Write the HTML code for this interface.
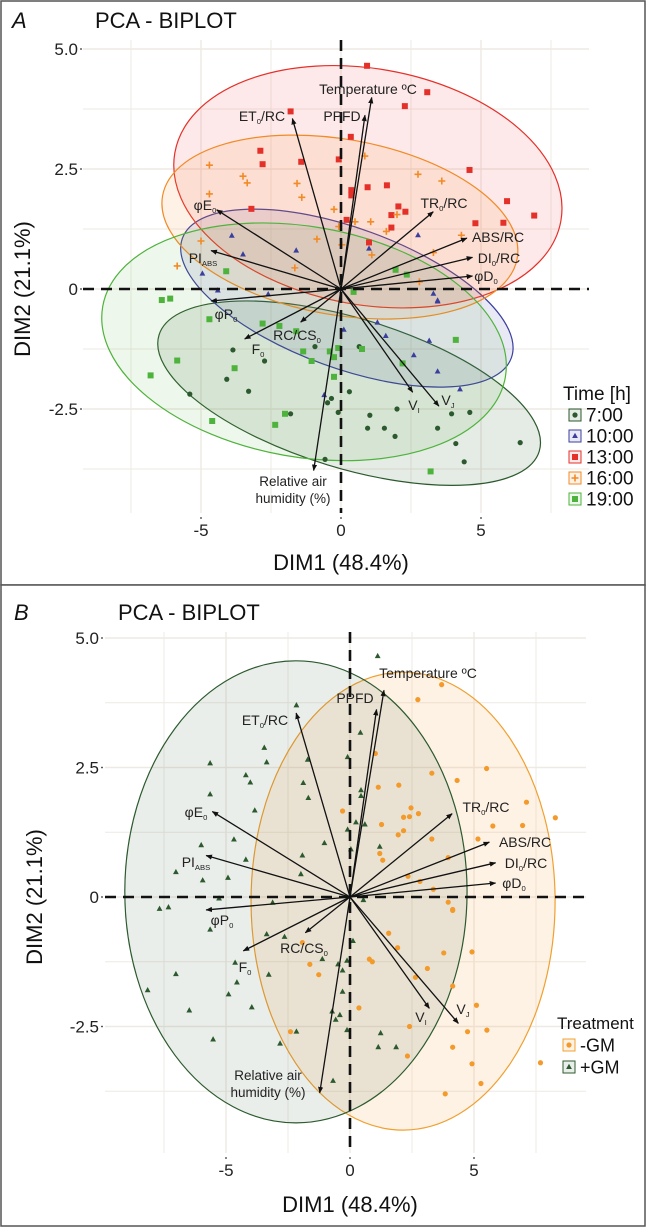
<!DOCTYPE html>
<html><head><meta charset="utf-8">
<style>
html,body{margin:0;padding:0;background:#fff;}
svg{display:block;font-family:"Liberation Sans",sans-serif;}
</style></head>
<body>
<svg id="chart" width="646" height="1228" viewBox="0 0 646 1228"></svg>
<script>
// ---------- data (DIM1, DIM2, treatment flag M=-GM, P=+GM) ----------
const vecNames = ["Temperature ºC","PPFD","ET_0_/RC","φE_0","PI_ABS","TR_0_/RC","ABS/RC","DI_0_/RC","φD_0","φP_0","F_0","RC/CS_0","V_I","V_J","Relative air humidity (%)"];
const vecX = [1.37,1.07,-2.17,-5.55,-5.8,4.12,5.62,5.87,5.87,-5.8,-4.3,-1.8,3.2,4.37,-1.22];
const vecY = [3.99,3.62,3.55,1.65,0.80,1.61,1.06,0.66,0.27,-0.25,-1.04,-0.69,-2.15,-2.44,-3.78];
const pts13 = [[0.93,4.65,'P'],[3.08,4.1,'M'],[2.28,3.81,'M'],[-1.8,3.7,'P'],[0.35,3.17,'P'],[-2.88,2.88,'P'],[-2.8,2.6,'P'],[-1.42,2.65,'P'],[-0.08,2.7,'P'],[0.37,2.06,'P'],[0.37,1.95,'P'],[0.95,2.12,'M'],[1.64,2.16,'M'],[4.59,2.48,'M'],[5.93,1.83,'M'],[6.9,1.53,'M'],[-3.2,1.67,'P'],[2.05,1.72,'M'],[2.3,1.61,'M'],[1.8,1.54,'M'],[0.2,1.44,'P'],[1.8,1.28,'M'],[4.8,1.37,'M'],[5.8,1.38,'M'],[1.0,0.97,'P']];
const pts16 = [[-4.7,2.58,'P'],[-3.5,2.35,'P'],[-3.35,2.21,'P'],[-1.57,2.2,'P'],[-1.4,1.91,'P'],[-4.7,1.98,'P'],[2.75,2.39,'M'],[3.6,2.25,'M'],[0.85,2.77,'M'],[-0.25,1.66,'M'],[0.5,1.4,'P'],[1.06,1.4,'M'],[2.0,1.55,'M'],[1.62,1.2,'M'],[-0.08,1.3,'P'],[-0.86,1.04,'P'],[0.03,0.92,'P'],[-5.0,1.0,'P'],[-5.85,0.48,'P'],[-1.65,0.44,'P'],[1.1,0.71,'M'],[4.3,1.12,'M'],[2.8,0.15,'M'],[3.3,0.76,'M']];
const pts10 = [[-3.9,1.11,'P'],[-3.5,0.72,'P'],[-1.6,0.8,'P'],[-4.95,0.32,'P'],[-4.4,-0.03,'P'],[-2.6,-0.11,'P'],[1.0,0.84,'M'],[2.75,1.12,'M'],[3.3,-0.1,'M'],[3.45,-0.24,'M'],[0.1,-0.85,'P'],[1.3,-0.7,'M'],[1.6,-0.98,'M'],[3.15,-1.08,'M'],[2.6,-1.38,'M'],[3.45,-1.72,'M'],[4.25,-2.09,'M'],[-0.6,-2.21,'P'],[3.45,-0.26,'M']];
const pts7 = [[-3.86,-1.27,'P'],[-2.73,-1.5,'P'],[-4.08,-1.88,'P'],[-3.3,-2.13,'P'],[-5.4,-2.19,'P'],[-0.93,-1.2,'P'],[0.65,-1.2,'M'],[0.3,-2.14,'M'],[-0.34,-2.28,'P'],[-0.48,-2.37,'P'],[-1.8,-2.6,'P'],[-0.1,-2.57,'P'],[1.03,-2.63,'P'],[2.0,-2.5,'M'],[0.95,-2.9,'P'],[1.55,-2.9,'P'],[1.93,-3.07,'M'],[3.45,-2.9,'M'],[3.95,-2.6,'M'],[4.6,-2.57,'M'],[4.1,-3.22,'M'],[4.4,-3.6,'M'],[6.4,-3.2,'M'],[-0.57,-3.55,'P']];
const pts19 = [[-6.4,-0.23,'P'],[-6.1,-0.2,'P'],[-4.1,0.37,'P'],[1.95,0.4,'M'],[2.35,0.3,'M'],[0.45,-0.06,'P'],[-4.7,-0.63,'P'],[-2.8,-0.72,'P'],[-2.2,-0.77,'P'],[-1.6,-0.88,'M'],[-1.35,-1.3,'M'],[-0.4,-1.3,'P'],[-0.25,-1.42,'P'],[-0.1,-1.23,'P'],[0.75,-1.25,'M'],[-1.05,-1.5,'M'],[-3.8,-1.65,'P'],[-5.85,-1.49,'P'],[-6.8,-1.8,'P'],[2.2,-1.55,'M'],[4.1,-1.06,'M'],[-0.25,-1.83,'P'],[-2.0,-2.6,'M'],[-4.6,-2.75,'P'],[-2.35,-2.83,'P'],[3.2,-3.8,'M']];
const xTicks = [-5,0,5];
const yTicks = [5.0,2.5,0,-2.5];
const yTickLabels = ["5.0","2.5","0","-2.5"];
const timeLabels = ["7:00","10:00","13:00","16:00","19:00"];
const treatLabels = ["-GM","+GM"];
// ellipses [cx, cy, rx, ry, rotation]
const ellA = [[0.29,-2.17,7.1,1.56,17],[0.21,-0.19,6.25,1.46,20],[0.96,2.13,7.0,2.46,10],[-0.04,1.29,6.43,1.83,10],[-1.32,-1.1,7.3,2.4,10]];
const ellB = [[2.14,-0.08,6.13,4.42,0],[-2.18,0.1,6.9,4.46,0]];

const NS="http://www.w3.org/2000/svg";
const svg=document.getElementById('chart');
function mk(tag,attrs,parent){const e=document.createElementNS(NS,tag);for(const k in attrs)e.setAttribute(k,attrs[k]);(parent||svg).appendChild(e);return e;}
function richText(parent,str,x,y,size,anchor){
  const t=mk('text',{x:x,y:y,'font-size':size,'text-anchor':anchor||'middle',fill:'#222'},parent);
  const parts=str.split('_');
  parts.forEach((p,i)=>{ if(!p)return; const s=mk('tspan',{},t); s.textContent=p;
    if(i%2===1){s.setAttribute('font-size',size*0.55);s.setAttribute('dy',3);}
    else if(i>0){s.setAttribute('dy',-3);} });
  return t;
}
const defs=mk('defs',{});
const mkr=mk('marker',{id:'arr',viewBox:'0 0 10 10',refX:9,refY:5,markerWidth:5,markerHeight:5,orient:'auto'},defs);
mk('path',{d:'M0,1 L10,5 L0,9 z',fill:'#111'},mkr);

function marker(g,type,color,px,py){
  let e;
  if(type==='circle'){e=mk('circle',{cx:px,cy:py,r:2.6,fill:color},g);}
  else if(type==='square'){e=mk('rect',{x:px-3,y:py-3,width:6,height:6,fill:color},g);}
  else if(type==='tri'){e=mk('path',{d:`M${px},${py-3.3} L${px+2.9},${py+2} L${px-2.9},${py+2} z`,fill:color},g);}
  else if(type==='plus'){e=mk('path',{d:`M${px-3.5},${py} H${px+3.5} M${px},${py-3.5} V${py+3.5}`,stroke:color,'stroke-width':1.6},g);}
  return e;
}

function panel(P){
  const X=v=>P.x0+P.sx*v, Y=v=>P.y0-P.sy*v;
  const XP=v=>P.x0+P.sx*P.ptScale*v, XV=v=>P.x0+P.sx*P.vecScale*v;
  const g=mk('g',{});
  
  
  const grid=mk('g',{},g);
  
  
  for(let v=-7.5;v<=7.5;v+=2.5){const maj=(v%5===0);
    mk('line',{x1:X(v),x2:X(v),y1:P.gt,y2:P.gb,stroke:'#eee9e3','stroke-width':maj?1.4:0.9},grid);}
  for(let v=-3.75;v<=5;v+=1.25){const maj=(Math.abs(v*2)%5===0);
    mk('line',{x1:P.gl,x2:P.gr,y1:Y(v),y2:Y(v),stroke:'#eee9e3','stroke-width':maj?1.4:0.9},grid);}
  P.ells.forEach((e,i)=>{const el=mk('ellipse',{cx:X(e[0]),cy:Y(e[1]),rx:P.sx*e[2],ry:P.sy*e[3],fill:P.groups[i].fill,stroke:P.groups[i].stroke,'stroke-width':1.2,transform:`rotate(${e[4]} ${X(e[0])} ${Y(e[1])})`},g);
    
    });
  P.groups.forEach(gr=>{
    const pg=mk('g',{},g);
    
    
    gr.pts.forEach(p=>{marker(pg,gr.shape,gr.color,XP(p[0]),Y(p[1]));});
  });
  const zx=mk('line',{x1:P.gl,x2:P.gr,y1:Y(0),y2:Y(0),stroke:'#111','stroke-width':2.6,'stroke-dasharray':'11,7'},g);
  
  
  const zy=mk('line',{x1:X(0),x2:X(0),y1:P.gt,y2:P.gb,stroke:'#111','stroke-width':2.6,'stroke-dasharray':'11,7'},g);
  
  
  vecNames.forEach((n,i)=>{
    const l=mk('line',{x1:X(0),y1:Y(0),x2:XV(vecX[i]),y2:Y(vecY[i]),stroke:'#111','stroke-width':1.3,'marker-end':'url(#arr)'},g);
    
    
    const lp=P.labels[i];
    if(n.indexOf('Relative')===0){
      const t1=richText(g,'Relative air',lp[0],lp[1],13.5);
      
      
      const t2=richText(g,'humidity (%)',lp[0],lp[1]+17,13.5);
      
      
    } else {
      const t=richText(g,n,lp[0],lp[1],14);
      
      
    }
  });
  xTicks.forEach(v=>{const t=mk('text',{x:X(v),y:P.xlab,'font-size':17,'text-anchor':'middle',fill:'#222'},g);t.textContent=String(v);
    
    
    mk('circle',{cx:X(v),cy:P.gb+5,r:0.9,fill:'#333'},g);});
  yTicks.forEach((v,i)=>{const t=mk('text',{x:P.ylabx,y:Y(v)+6,'font-size':17,'text-anchor':'end',fill:'#222'},g);t.textContent=yTickLabels[i];
    
    
    mk('circle',{cx:P.ylabx+3,cy:Y(v),r:0.9,fill:'#333'},g);});
  const tl=mk('text',{x:P.letterX,y:P.titleY,'font-size':22,'font-style':'italic',fill:'#111'},g);tl.textContent=P.letter;
  
  
  const tt=mk('text',{x:P.titleX,y:P.titleY,'font-size':22,fill:'#111'},g);tt.textContent='PCA - BIPLOT';
  
  
  const xt=mk('text',{x:P.x0,y:P.xtitle,'font-size':22,'text-anchor':'middle',fill:'#111'},g);xt.textContent='DIM1 (48.4%)';
  
  
  const yt=mk('text',{x:P.ytx,y:P.y0,'font-size':22,'text-anchor':'middle',fill:'#111',transform:`rotate(-90 ${P.ytx} ${P.y0})`},g);yt.textContent='DIM2 (21.1%)';
  
  
  const lg=mk('g',{},g);
  
  
  const lt=mk('text',{x:P.legX-12,y:P.legY,'font-size':P.legTitleSize,fill:'#111'},lg);lt.textContent=P.legTitle;
  P.legItems.forEach((it,i)=>{const yy=P.legY+P.legGap*(i+1)-6;
    const e=mk('g',{},lg);
    
    
    mk('rect',{x:P.legX-6,y:yy-6,width:12,height:12,fill:it.fill,stroke:it.stroke,'stroke-width':1},e);
    marker(e,it.shape,it.color,P.legX,yy);
    const tx=mk('text',{x:P.legX+11,y:yy+6.5,'font-size':P.legSize,fill:'#111'},e);tx.textContent=it.label;});
}

const gA=[
 {key:'7h',shape:'circle',color:'#2c5a2e',fill:'rgba(45,90,45,0.12)',stroke:'#2c5a2e',pts:pts7,label:timeLabels[0]},
 {key:'10h',shape:'tri',color:'#3a3f9e',fill:'rgba(70,75,170,0.12)',stroke:'#3a3f9e',pts:pts10,label:timeLabels[1]},
 {key:'13h',shape:'square',color:'#e53029',fill:'rgba(240,70,70,0.12)',stroke:'#e53029',pts:pts13,label:timeLabels[2]},
 {key:'16h',shape:'plus',color:'#f28a25',fill:'rgba(245,150,60,0.12)',stroke:'#f28a25',pts:pts16,label:timeLabels[3]},
 {key:'19h',shape:'square',color:'#4eb33c',fill:'rgba(90,180,60,0.10)',stroke:'#4eb33c',pts:pts19,label:timeLabels[4]}];
const allPts=[].concat(pts7,pts10,pts13,pts16,pts19);
const gB=[
 {key:'minus-gm',shape:'circle',color:'#f39a2a',fill:'rgba(248,170,80,0.15)',stroke:'#f0a030',pts:allPts.filter(p=>p[2]==='M'),label:treatLabels[0]},
 {key:'plus-gm',shape:'tri',color:'#2c5a2e',fill:'rgba(45,90,60,0.10)',stroke:'#2c5a2e',pts:allPts.filter(p=>p[2]==='P'),label:treatLabels[1]}];

mk('rect',{x:1,y:1,width:644,height:584,fill:'#fff',stroke:'#555','stroke-width':1.5});
mk('rect',{x:1,y:585,width:644,height:641,fill:'#fff',stroke:'#555','stroke-width':1.5});

panel({name:'panel-a',x0:341,y0:289,sx:28,sy:48,ptScale:1,vecScale:0.8,gl:83,gr:589,gt:40,gb:513,xlab:536,ylabx:78,xtitle:570,ytx:30,
 letter:'A',letterX:12,titleX:95,titleY:28,ells:ellA,groups:gA,
 labels:[[368,94],[342,121],[262,121],[205,210],[203,263],[444,208],[498,242],[499,263],[486,281],[226,319],[258,354],[297,340],[414,410],[448,405],[293,486]],
 legTitle:'Time [h]',legX:575,legY:400,legGap:21,legSize:19,legTitleSize:19,legItems:gA});
panel({name:'panel-b',x0:350,y0:897,sx:24.8,sy:51.8,ptScale:1.2,vecScale:1,gl:105,gr:586,gt:632,gb:1153,xlab:1176,ylabx:99,xtitle:1212,ytx:42,
 letter:'B',letterX:14,titleX:118,titleY:620,ells:ellB,groups:gB,
 labels:[[428,678],[355,703],[265,725],[196,817],[196,867],[486,812],[525,847],[526,868],[514,888],[222,925],[245,972],[304,953],[421,1022],[463,1014],[268,1080]],
 legTitle:'Treatment',legX:569,legY:1029,legGap:22,legSize:18,legTitleSize:17,legItems:gB});
</script>
</body></html>
